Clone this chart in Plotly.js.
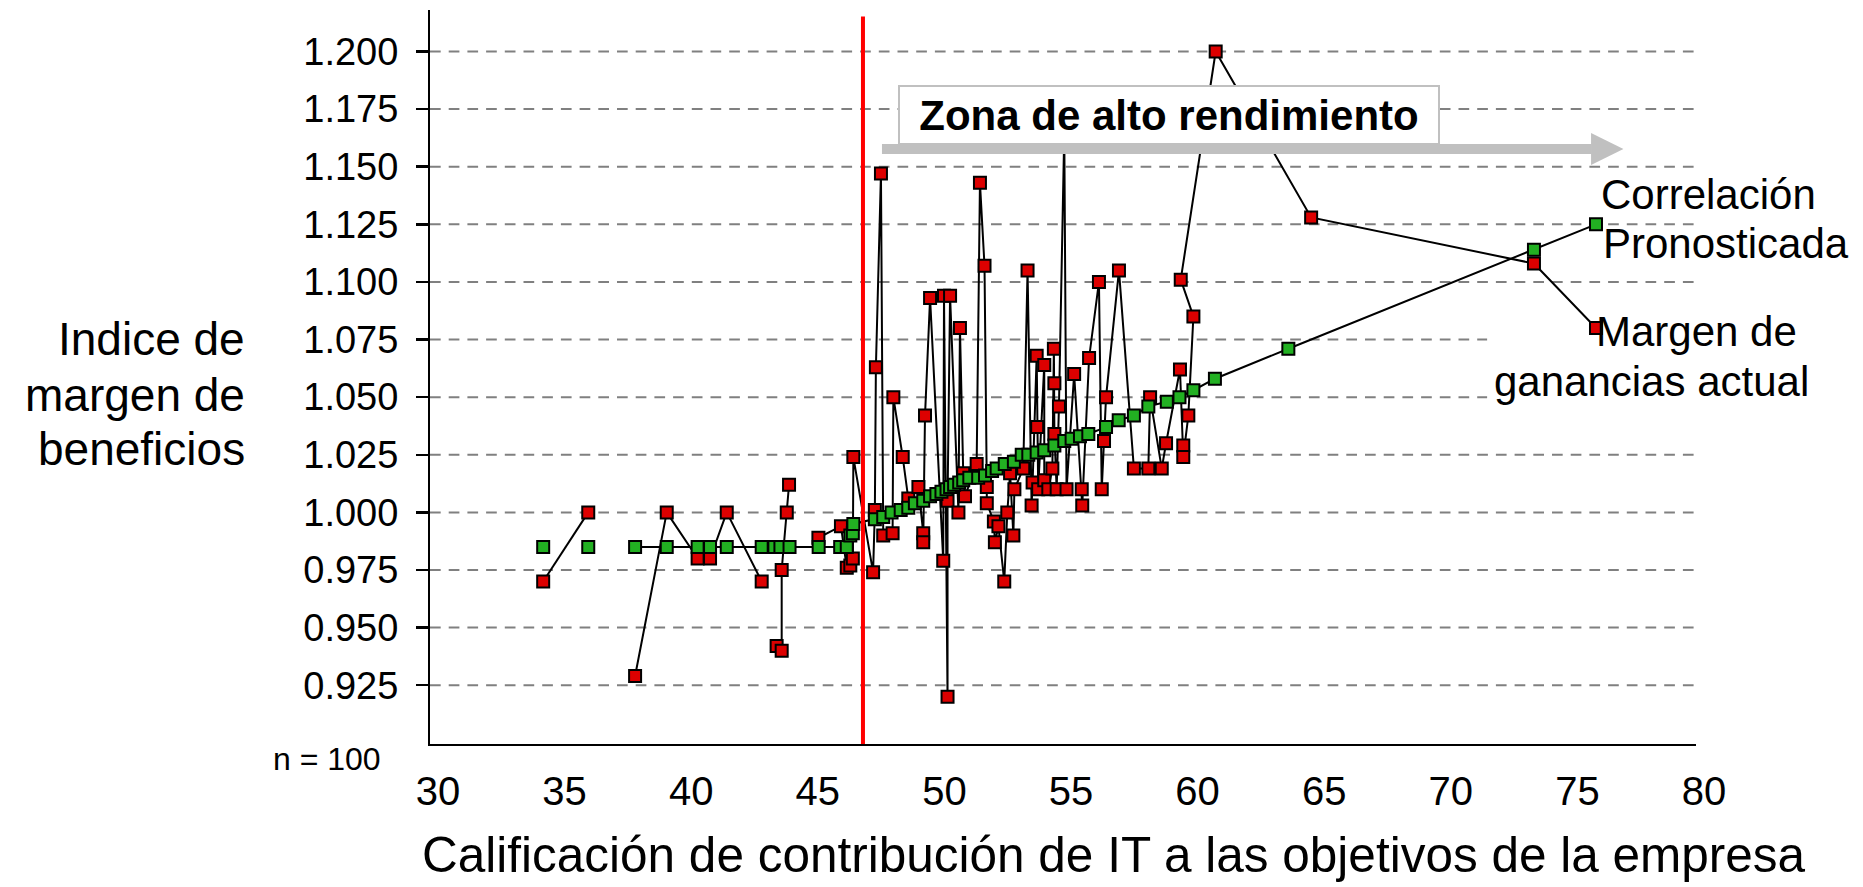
<!DOCTYPE html>
<html>
<head>
<meta charset="utf-8">
<script src="https://cdn.plot.ly/plotly-3.0.1.min.js"></script>
<style>
html,body{margin:0;padding:0;background:#fff;overflow:hidden}
#chart{width:1863px;height:887px}
</style>
</head>
<body>
<div id="chart"></div>
<script>
// ---- Data (null = break in the line) ----
const redX = [34.47, 36.25, null, 38.10, 39.35, 40.57, 41.06, 41.72, 43.10, null,
  43.69, 43.89, 43.89, 44.09, 44.18, null,
  45.34, 46.23, 46.46, 46.60, 46.70, 46.72, 47.50, 47.57, 47.61, 47.81, 47.90, 48.27, 48.30, 48.67,
  48.89, 49.29, 49.48, 49.48, 49.55, 49.75, 50.27, 50.30, 50.44, 50.44, 50.54, 50.87, 50.93, 51.06,
  51.13, 51.59, 51.72, 51.90, 51.99, 51.99, 52.27, 52.31, 52.45, 52.68, 52.80, 52.91, 53.04, 53.08,
  53.43, 53.60, 53.76, 53.80, 53.96, 53.98, 54.02, 54.26, 54.26, 54.42, 54.58, 54.64, 54.66, 54.66,
  54.75, 54.84, 55.05, 55.14, 55.44, 55.74, 55.76, 56.03, 56.42, 56.53, 56.62, 56.70, 57.21, 57.80,
  58.37, 58.44, 58.90, 59.07, 59.62, 59.75, 59.75, 59.95, 60.15, 59.65, 61.03, 64.80, 73.60, 76.05];
const redY = [0.970, 1.000, null, 0.929, 1.000, 0.980, 0.980, 1.000, 0.970, null,
  0.942, 0.940, 0.975, 1.000, 1.012, null,
  0.989, 0.994, 0.976, 0.977, 0.980, 1.024, 0.974, 1.001, 1.063, 1.147, 0.990, 0.991, 1.050, 1.024,
  1.006, 1.011, 0.991, 0.987, 1.042, 1.093, 0.979, 1.094, 0.920, 1.005, 1.094, 1.000, 1.080, 1.017,
  1.007, 1.021, 1.143, 1.107, 1.011, 1.004, 0.996, 0.987, 0.994, 0.970, 1.000, 1.017, 0.990, 1.010,
  1.019, 1.105, 1.003, 1.013, 1.068, 1.037, 1.010, 1.064, 1.014, 1.010, 1.019, 1.071, 1.056, 1.034,
  1.010, 1.046, 1.165, 1.010, 1.060, 1.010, 1.003, 1.067, 1.100, 1.010, 1.031, 1.050, 1.105, 1.019,
  1.019, 1.050, 1.019, 1.030, 1.062, 1.029, 1.024, 1.042, 1.085, 1.101, 1.200, 1.128, 1.108, 1.080];

const greenX = [34.47, null, 36.25, null, 38.10, 39.35, 40.57, 41.06, 41.72, 43.10, 43.60, 43.84, 44.20,
  45.35, 46.20, 46.46, 46.60, 46.70, 46.72, 47.57, 47.90, 48.23, 48.59, 48.89, 49.15, 49.48, 49.75,
  50.00, 50.20, 50.40, 50.54, 50.70, 50.90, 51.06, 51.30, 51.65, 51.92, 52.20, 52.38, 52.70, 53.06,
  53.37, 53.63, 53.96, 54.26, 54.66, 55.05, 55.34, 55.67, 56.00, 56.70, 57.20, 57.80, 58.37, 59.10,
  59.60, 60.15, 61.00, 63.90, 73.60, 76.05];
const greenY = [0.985, null, 0.985, null, 0.985, 0.985, 0.985, 0.985, 0.985, 0.985, 0.985, 0.985, 0.985,
  0.985, 0.985, 0.985, 0.990, 0.991, 0.995, 0.997, 0.998, 1.000, 1.001, 1.002, 1.004, 1.005, 1.007,
  1.008, 1.009, 1.010, 1.011, 1.012, 1.013, 1.014, 1.015, 1.015, 1.016, 1.018, 1.019, 1.021, 1.022,
  1.025, 1.025, 1.026, 1.027, 1.029, 1.031, 1.032, 1.033, 1.034, 1.037, 1.040, 1.042, 1.046, 1.048,
  1.050, 1.053, 1.058, 1.071, 1.114, 1.125];

const xTicks = [30, 35, 40, 45, 50, 55, 60, 65, 70, 75, 80];
const yTicks = [0.925, 0.950, 0.975, 1.000, 1.025, 1.050, 1.075, 1.100, 1.125, 1.150, 1.175, 1.200];
const shortGridTicks = [1.050, 1.075];   // grid lines interrupted by the right-hand label
const zoneStart = 47.1;

const yTitleLines = ["Indice de", "margen de", "beneficios"];
const xTitleText = "Calificación de contribución de IT a las objetivos de la empresa";
const zoneText = "Zona de alto rendimiento";
const predictedLines = ["Correlación", "Pronosticada"];
const actualLines = ["Margen de", "ganancias actual"];
const sampleText = "n = 100";

// ---- Chart ----
const FONT = '"Liberation Sans", Arial, Helvetica, sans-serif';

const traces = [
  {
    type: 'scatter', mode: 'lines+markers', name: actualLines.join(' '),
    x: redX, y: redY, connectgaps: false, cliponaxis: false, hoverinfo: 'skip',
    line: {color: '#000000', width: 2},
    marker: {symbol: 'square', size: 12, color: '#dd0000', line: {color: '#000000', width: 2}}
  },
  {
    type: 'scatter', mode: 'lines+markers', name: predictedLines.join(' '),
    x: greenX, y: greenY, connectgaps: false, cliponaxis: false, hoverinfo: 'skip',
    line: {color: '#000000', width: 2},
    marker: {symbol: 'square', size: 12, color: '#22b022', line: {color: '#000000', width: 2}}
  }
];

function ann(text, x, y, xanchor, size, extra) {
  return Object.assign({
    text: text, xref: 'paper', yref: 'paper', x: x, y: y,
    xanchor: xanchor, yanchor: 'middle', showarrow: false,
    font: {family: FONT, size: size, color: '#000'}
  }, extra || {});
}

// dashed horizontal grid lines, drawn under the data
const gridShapes = yTicks.map(v => ({
  type: 'line', xref: 'paper', yref: 'y', x0: 0, x1: shortGridTicks.includes(v) ? 0.835 : 1,
  y0: v, y1: v, line: {color: '#808080', width: 2, dash: '10.7px,8px'}, layer: 'below'
}));

const layout = {
  width: 1863, height: 887,
  margin: {l: 430, r: 167, t: 10, b: 143, pad: 0},
  paper_bgcolor: '#ffffff', plot_bgcolor: '#ffffff',
  font: {family: FONT, color: '#000'},
  showlegend: false,
  xaxis: {
    range: [30, 80], tickvals: xTicks, ticks: '', showgrid: false, zeroline: false,
    showline: true, linecolor: '#000', linewidth: 2,
    tickfont: {family: FONT, size: 40, color: '#000'}, ticklabelstandoff: 11, ticklabelshift: 8,
    fixedrange: true
  },
  yaxis: {
    range: [0.8995, 1.218], tickvals: yTicks, tickformat: '.3f',
    ticks: 'outside', ticklen: 12, tickwidth: 2.5, tickcolor: '#000',
    showline: true, linecolor: '#000', linewidth: 2, zeroline: false, showgrid: false,
    tickfont: {family: FONT, size: 38, color: '#000'}, ticklabelstandoff: 10, fixedrange: true
  },
  shapes: gridShapes.concat([
    // threshold line
    {type: 'line', xref: 'x', yref: 'paper', x0: zoneStart, x1: zoneStart, y0: 0, y1: 0.991,
     line: {color: '#ff0000', width: 4}, layer: 'above'},
    // grey arrow shaft
    {type: 'rect', xref: 'paper', yref: 'paper', x0: 0.357, x1: 0.9175, y0: 0.8038, y1: 0.8174,
     fillcolor: '#c0c0c0', line: {width: 0}, layer: 'above'},
    // grey arrow head
    {type: 'path', xref: 'paper', yref: 'paper',
     path: 'M 0.9171,0.8324 L 0.9427,0.8106 L 0.9171,0.7888 Z',
     fillcolor: '#c0c0c0', line: {width: 0}, layer: 'above'}
  ]),
  annotations: [
    ann(yTitleLines[0], -0.1448, 0.5516, 'right', 46),
    ann(yTitleLines[1], -0.1448, 0.4756, 'right', 46),
    ann(yTitleLines[2], -0.1448, 0.4013, 'right', 46),
    ann(xTitleText, 0.5400, -0.1512, 'center', 49.5),
    ann(sampleText, -0.0815, -0.020, 'center', 32),
    ann('<b>' + zoneText + '</b>', 0.5837, 0.8569, 'center', 42,
        {bgcolor: '#ffffff', bordercolor: '#c0c0c0', borderwidth: 2, borderpad: 1, width: 536, height: 54}),
    ann(predictedLines[0], 0.9234, 0.7493, 'left', 42),
    ann(predictedLines[1], 0.9250, 0.6812, 'left', 42),
    ann(actualLines[0], 1.0814, 0.5620, 'right', 42),
    ann(actualLines[1], 1.0908, 0.4936, 'right', 42)
  ]
};

Plotly.newPlot('chart', traces, layout, {staticPlot: true, displayModeBar: false});
</script>
</body>
</html>
